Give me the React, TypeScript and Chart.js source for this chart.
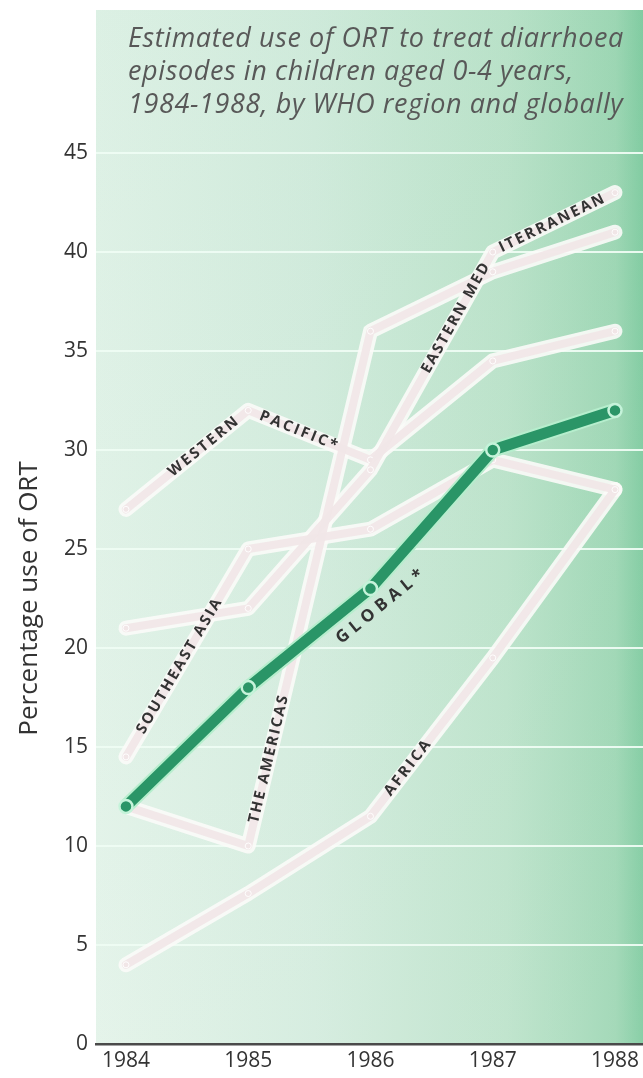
import { useEffect, useRef } from "react";
import { Chart, registerables } from "chart.js";

Chart.register(...registerables);

// ---------- data ----------
const years = [1984, 1985, 1986, 1987, 1988];
const yTickValues = [0, 5, 10, 15, 20, 25, 30, 35, 40, 45];

const africa = [4, 7.6, 11.5, 19.5, 28];
const theAmericas = [12, 10, 36, 39, 41];
const easternMediterranean = [21, 22, 29, 40, 43];
const southeastAsia = [14.5, 25, 26, 29.5, 28];
const westernPacific = [27, 32, 29.5, 34.5, 36];
const globalUse = [12, 18, 23, 30, 32];

const regionNames = ["Africa", "The Americas", "Eastern Mediterranean", "Southeast Asia", "Western Pacific"];
const globalName = "Global";

const titleLines = [
  "Estimated use of ORT to treat diarrhoea",
  "episodes in children aged 0-4 years,",
  "1984-1988, by WHO region and globally",
];
const yAxisTitle = "Percentage use of ORT";
const lineLabelTexts = [
  "WESTERN",
  "PACIFIC*",
  "SOUTHEAST ASIA",
  "THE AMERICAS",
  "EASTERN MED",
  "ITERRANEAN",
  "AFRICA",
  "GLOBAL*",
];

const FONT = "'Open Sans', 'Noto Sans', sans-serif";

const regionSeries = [africa, theAmericas, easternMediterranean, southeastAsia, westernPacific];
const allSeries = [africa, theAmericas, easternMediterranean, southeastAsia, westernPacific, globalUse];

// placement of line labels: series index, segment, fraction along segment, perpendicular offset
const labelPlacement = [
  { s: 4, seg: 0, t: 0.64, off: 0, spacing: 2.5, size: 15 },
  { s: 4, seg: 1, t: 0.42, off: 0, spacing: 2.5, size: 15 },
  { s: 3, seg: 0, t: 0.44, off: 0, spacing: 2.2, size: 15 },
  { s: 1, seg: 1, t: 0.17, off: 0, spacing: 2, size: 15 },
  { s: 2, seg: 2, t: 0.7, off: 0, spacing: 2, size: 15 },
  { s: 2, seg: 3, t: 0.49, off: 0, spacing: 2.2, size: 15 },
  { s: 0, seg: 2, t: 0.31, off: 0, spacing: 2.5, size: 15 },
  { s: 5, seg: 1, t: 0.99, off: 20, spacing: 5, size: 17 },
];

const panelPlugin = {
  id: "panelBackground",
  beforeDraw(chart: any) {
    const { ctx, chartArea, width } = chart;
    const x0 = chartArea.left;
    const y0 = 10;
    const y1 = chartArea.bottom;
    ctx.save();
    const g = ctx.createLinearGradient(x0, 0, width, 0);
    g.addColorStop(0, "#e3f3e9");
    g.addColorStop(0.4, "#d4ecde");
    g.addColorStop(0.75, "#bde3cb");
    g.addColorStop(0.95, "#9fd7b5");
    g.addColorStop(1, "#82cca2");
    ctx.fillStyle = g;
    ctx.fillRect(x0, y0, width - x0, y1 - y0);
    const v = ctx.createLinearGradient(0, y0, 0, y1);
    v.addColorStop(0, "rgba(110,195,150,0.06)");
    v.addColorStop(1, "rgba(255,255,255,0.06)");
    ctx.fillStyle = v;
    ctx.fillRect(x0, y0, width - x0, y1 - y0);
    // title
    ctx.fillStyle = "#585858";
    ctx.font = `italic 27px ${FONT}`;
    (ctx as any).letterSpacing = "0.6px";
    ctx.textAlign = "left";
    ctx.textBaseline = "alphabetic";
    titleLines.forEach((line, i) => {
      ctx.fillText(line, 128, 47 + i * 33);
    });
    ctx.restore();
  },
};

const lineLabelPlugin = {
  id: "lineLabels",
  afterDatasetsDraw(chart: any) {
    const { ctx } = chart;
    const xs = chart.scales.x;
    const ys = chart.scales.y;
    ctx.save();
    ctx.fillStyle = "#333333";
    ctx.textAlign = "center";
    ctx.textBaseline = "middle";
    labelPlacement.forEach((p, i) => {
      const series = allSeries[p.s];
      const xA = xs.getPixelForValue(years[p.seg]);
      const yA = ys.getPixelForValue(series[p.seg]);
      const xB = xs.getPixelForValue(years[p.seg + 1]);
      const yB = ys.getPixelForValue(series[p.seg + 1]);
      const dx = xB - xA;
      const dy = yB - yA;
      const len = Math.hypot(dx, dy);
      const ang = Math.atan2(dy, dx);
      let nx = -dy / len;
      let ny = dx / len;
      if (ny < 0) {
        nx = -nx;
        ny = -ny;
      }
      const cx = xA + dx * p.t + nx * p.off;
      const cy = yA + dy * p.t + ny * p.off;
      ctx.save();
      ctx.translate(cx, cy);
      ctx.rotate(ang);
      ctx.font = `700 ${p.size}px ${FONT}`;
      (ctx as any).letterSpacing = `${p.spacing}px`;
      ctx.fillText(lineLabelTexts[i], 0, 0);
      ctx.restore();
    });
    ctx.restore();
  },
};

export default function App() {
  const canvasRef = useRef<HTMLCanvasElement | null>(null);

  useEffect(() => {
    if (!canvasRef.current) return;
    const toPoints = (arr: number[]) => arr.map((v, j) => ({ x: years[j], y: v }));
    const datasets: any[] = [];
    regionSeries.forEach((vals, i) => {
      datasets.push({
        label: regionNames[i] + " band",
        data: toPoints(vals),
        borderColor: "rgba(251,251,248,0.9)",
        borderWidth: 15,
        pointRadius: 0,
        borderCapStyle: "round",
        borderJoinStyle: "round",
        tension: 0,
        order: 20,
      });
      datasets.push({
        label: regionNames[i],
        data: toPoints(vals),
        borderColor: "rgba(241,230,231,0.92)",
        borderWidth: 8,
        pointRadius: 3,
        pointBackgroundColor: "rgba(241,230,231,1)",
        pointBorderColor: "rgba(255,255,255,0.9)",
        pointBorderWidth: 1,
        borderCapStyle: "round",
        borderJoinStyle: "round",
        tension: 0,
        order: 19,
      });
    });
    datasets.push({
      label: globalName + " outline",
      data: toPoints(globalUse),
      borderColor: "#b6eecd",
      borderWidth: 15,
      pointRadius: 0,
      borderCapStyle: "butt",
      borderJoinStyle: "round",
      tension: 0,
      order: 2,
    });
    datasets.push({
      label: globalName,
      data: toPoints(globalUse),
      borderColor: "#2a9567",
      borderWidth: 11,
      pointRadius: 6.5,
      pointBackgroundColor: "#2a9567",
      pointBorderColor: "#c5f3da",
      pointBorderWidth: 2.5,
      borderCapStyle: "butt",
      borderJoinStyle: "round",
      tension: 0,
      order: 1,
    });

    const chart = new Chart(canvasRef.current, {
      type: "line",
      data: { datasets },
      plugins: [panelPlugin, lineLabelPlugin],
      options: {
        animation: false,
        responsive: false,
        devicePixelRatio: 1,
        layout: { autoPadding: false, padding: { top: 153, left: 0, right: 0, bottom: 0 } },
        plugins: {
          legend: { display: false },
          tooltip: { enabled: false },
          title: { display: false },
        },
        scales: {
          x: {
            type: "linear",
            min: 1983.755,
            max: 1988.229,
            afterBuildTicks: (s: any) => {
              s.ticks = years.map((v) => ({ value: v }));
            },
            afterFit: (s: any) => {
              s.height = 34;
              s.paddingLeft = 0;
              s.paddingRight = 0;
            },
            ticks: {
              callback: (v: any) => String(v),
              font: { family: FONT, size: 21 },
              color: "#333333",
              padding: 4,
              maxRotation: 0,
              autoSkip: false,
            },
            grid: { display: false, drawTicks: false },
            border: { display: true, color: "#4a4a4a", width: 2.5 },
          },
          y: {
            type: "linear",
            min: 0,
            max: 45,
            afterBuildTicks: (s: any) => {
              s.ticks = yTickValues.map((v) => ({ value: v }));
            },
            afterFit: (s: any) => {
              s.width = 96;
              s.paddingTop = 0;
              s.paddingBottom = 0;
            },
            ticks: {
              font: { family: FONT, size: 21 },
              color: "#333333",
              padding: 8,
            },
            grid: { color: "rgba(238,252,243,0.95)", lineWidth: 2, drawTicks: false },
            border: { display: false },
            title: {
              display: true,
              text: yAxisTitle,
              font: { family: FONT, size: 26 },
              color: "#333333",
              padding: { top: 14, bottom: 0 },
            },
          },
        },
      },
    });
    return () => chart.destroy();
  }, []);

  return (
    <div style={{ position: "fixed", left: 0, top: 0, width: 643, height: 1078, background: "#ffffff" }}>
      <canvas ref={canvasRef} width={643} height={1078} style={{ display: "block" }} />
    </div>
  );
}
